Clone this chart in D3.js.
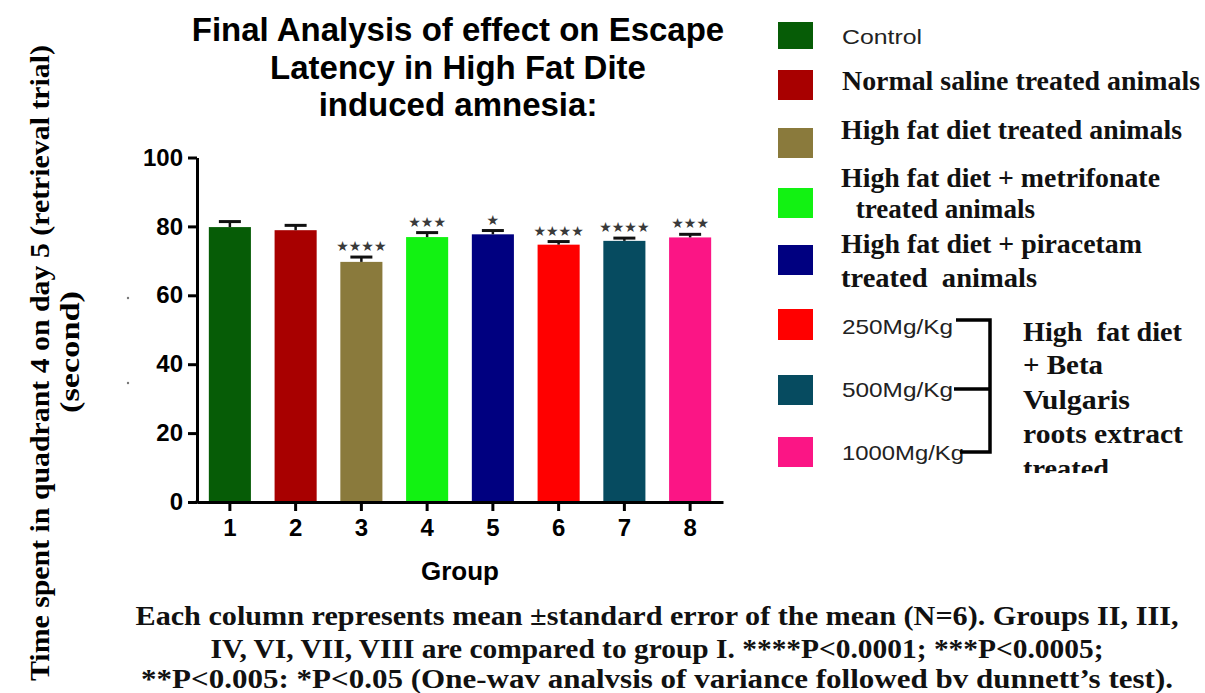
<!DOCTYPE html>
<html>
<head>
<meta charset="utf-8">
<script src="https://cdn.jsdelivr.net/npm/d3@7"></script>
<style>
  html, body { margin: 0; padding: 0; background: #ffffff; }
  svg { display: block; }
</style>
</head>
<body>
<svg id="chart" width="1205" height="693"></svg>
<script>
// ---------------- DATA ----------------
const groups = ["1", "2", "3", "4", "5", "6", "7", "8"];
const means = [79.8, 78.9, 69.7, 76.9, 77.7, 74.7, 75.8, 76.8];
const sems = [1.6, 1.4, 1.4, 1.3, 1.1, 0.9, 0.8, 0.9];
const significance = ["", "", "****", "***", "*", "****", "****", "***"];
const barColors = ["#065c06", "#a80000", "#8a7a3c", "#12f212", "#000080", "#ff0000", "#064b60", "#fb1585"];
const yTicks = [0, 20, 40, 60, 80, 100];

const titleLines = ["Final Analysis of effect on Escape", "Latency in High Fat Dite", "induced amnesia:"];
const xAxisTitle = "Group";
const yAxisTitleLines = ["Time spent in quadrant 4 on day 5 (retrieval trial)", "(second)"];

const legendLabels = [
  "Control",
  "Normal saline treated animals",
  "High fat diet treated animals",
  "High fat diet + metrifonate\n treated animals",
  "High fat diet + piracetam\ntreated  animals",
  "250Mg/Kg",
  "500Mg/Kg",
  "1000Mg/Kg"
];
const legendSans = [true, false, false, false, false, true, true, true];
const bracketLines = ["High  fat diet", "+ Beta", "Vulgaris", "roots extract", "treated"];

const captionLines = [
  "Each column represents mean \u00b1standard error of the mean (N=6). Groups II, III,",
  "IV, VI, VII, VIII are compared to group I. ****P<0.0001; ***P<0.0005;",
  "**P<0.005: *P<0.05 (One-wav analvsis of variance followed bv dunnett\u2019s test)."
];

// ---------------- LAYOUT ----------------
const svg = d3.select("#chart");
const SANS = "'Liberation Sans', Arial, sans-serif";
const SERIF = "'Liberation Serif', 'Times New Roman', serif";

const x = d3.scaleBand().domain(groups).range([197, 723]).paddingInner(0.36).paddingOuter(0.18);
const y = d3.scaleLinear().domain([0, 100]).range([502, 157.5]);

// bars
svg.append("g").selectAll("rect").data(groups).join("rect")
  .attr("x", d => x(d))
  .attr("y", (d, i) => y(means[i]))
  .attr("width", x.bandwidth())
  .attr("height", (d, i) => y(0) - y(means[i]))
  .attr("fill", (d, i) => barColors[i]);

// error bars (upper only)
const eb = svg.append("g").attr("stroke", "#111");
groups.forEach((g, i) => {
  const cx = x(g) + x.bandwidth() / 2;
  eb.append("line").attr("x1", cx).attr("x2", cx)
    .attr("y1", y(means[i])).attr("y2", y(means[i] + sems[i])).attr("stroke-width", 2.5);
  eb.append("line").attr("x1", cx - 11).attr("x2", cx + 11)
    .attr("y1", y(means[i] + sems[i])).attr("y2", y(means[i] + sems[i])).attr("stroke-width", 3);
});

// significance stars
svg.append("g").selectAll("text").data(groups).join("text")
  .attr("x", d => x(d) + x.bandwidth() / 2)
  .attr("y", (d, i) => y(means[i] + sems[i]) - 11)
  .attr("text-anchor", "middle")
  .attr("dominant-baseline", "central")
  .attr("font-family", "'DejaVu Sans', sans-serif")
  .attr("font-size", 14)
  .attr("fill", "#3a3a3a")
  .text((d, i) => significance[i].replace(/\*/g, "\u2605"));

// axes
const yAxis = svg.append("g").attr("transform", "translate(197,0)")
  .call(d3.axisLeft(y).tickValues(yTicks).tickSize(9).tickSizeOuter(0).tickPadding(5));
const xAxis = svg.append("g").attr("transform", "translate(0,502)")
  .call(d3.axisBottom(x).tickSize(9).tickSizeOuter(0).tickPadding(8));
[yAxis, xAxis].forEach(a => {
  a.select(".domain").attr("stroke", "#000").attr("stroke-width", 3);
  a.selectAll(".tick line").attr("stroke", "#000").attr("stroke-width", 3);
  a.selectAll(".tick text").attr("fill", "#000").attr("font-family", SANS)
    .attr("font-weight", "bold").attr("font-size", 24);
});
svg.append("line").attr("x1", 195.5).attr("x2", 198).attr("y1", 502).attr("y2", 502)
  .attr("stroke", "#000").attr("stroke-width", 3);

// x axis title
svg.append("text").attr("x", 460).attr("y", 580).attr("text-anchor", "middle")
  .attr("font-family", SANS).attr("font-weight", "bold").attr("font-size", 26)
  .text(xAxisTitle);

// title
const titleBase = [41, 79, 116];
svg.append("g").selectAll("text").data(titleLines).join("text")
  .attr("x", 458).attr("y", (d, i) => titleBase[i])
  .attr("text-anchor", "middle")
  .attr("font-family", SANS).attr("font-weight", "bold").attr("font-size", 33)
  .text(d => d);

// y axis title (rotated)
const yTitleX = [49, 79];
const yTitleLen = [636, 122];
yAxisTitleLines.forEach((t, i) => {
  svg.append("text")
    .attr("transform", `translate(${yTitleX[i]},${i === 0 ? 363 : 352}) rotate(-90)`)
    .attr("text-anchor", "middle")
    .attr("font-family", SERIF).attr("font-weight", "bold").attr("font-size", 27)
    .attr("textLength", yTitleLen[i]).attr("lengthAdjust", "spacingAndGlyphs")
    .text(t);
});

svg.append("circle").attr("cx", 128).attr("cy", 298).attr("r", 1.2).attr("fill", "#777");
svg.append("circle").attr("cx", 128).attr("cy", 383).attr("r", 1.2).attr("fill", "#777");

// legend
const swatchY = [22, 70, 128, 188, 245, 309, 375, 437];
const swatchH = [27, 30, 30, 30, 30, 31, 30, 30];
const legBase = [[44], [90], [139], [187, 218], [253, 287], [334], [397], [460]];
const legX = [[842], [842], [841], [841, 849], [841, 841], [842], [842], [842]];
const legLen = [[80], [358], [341], [319, 186], [301, 196], [111], [111], [122]];
const leg = svg.append("g");
legendLabels.forEach((lab, i) => {
  leg.append("rect").attr("x", 778).attr("y", swatchY[i]).attr("width", 35).attr("height", swatchH[i])
    .attr("fill", barColors[i]);
  lab.split("\n").forEach((line, j) => {
    leg.append("text")
      .attr("x", legX[i][j]).attr("y", legBase[i][j])
      .attr("font-family", legendSans[i] ? SANS : SERIF)
      .attr("font-weight", legendSans[i] ? "normal" : "bold")
      .attr("font-size", legendSans[i] ? 21 : 27)
      .attr("fill", legendSans[i] ? "#222" : "#111")
      .attr("textLength", legLen[i][j]).attr("lengthAdjust", "spacingAndGlyphs")
      .style("white-space", "pre")
      .text(line);
  });
});

// bracket
svg.append("path")
  .attr("d", "M956,320 H990 V452 H960 M954,389 H990")
  .attr("fill", "none").attr("stroke", "#000").attr("stroke-width", 3.5);

// bracket label, clipped at bottom
svg.append("clipPath").attr("id", "brclip").append("rect")
  .attr("x", 1000).attr("y", 300).attr("width", 205).attr("height", 173);
const brBase = [341, 374, 409, 443, 478];
const brLen = [159, 80, 107, 160, 86];
svg.append("g").attr("clip-path", "url(#brclip)").selectAll("text").data(bracketLines).join("text")
  .attr("x", 1023).attr("y", (d, i) => brBase[i])
  .attr("font-family", SERIF).attr("font-weight", "bold").attr("font-size", 28).attr("fill", "#111")
  .attr("textLength", (d, i) => brLen[i]).attr("lengthAdjust", "spacingAndGlyphs")
  .style("white-space", "pre")
  .text(d => d);

// caption
const capBase = [625, 658, 688];
const capLen = [1043, 893, 1032];
svg.append("g").selectAll("text").data(captionLines).join("text")
  .attr("x", 657).attr("y", (d, i) => capBase[i])
  .attr("text-anchor", "middle")
  .attr("font-family", SERIF).attr("font-weight", "bold").attr("font-size", 27).attr("fill", "#111")
  .attr("textLength", (d, i) => capLen[i]).attr("lengthAdjust", "spacingAndGlyphs")
  .text(d => d);
</script>
</body>
</html>
